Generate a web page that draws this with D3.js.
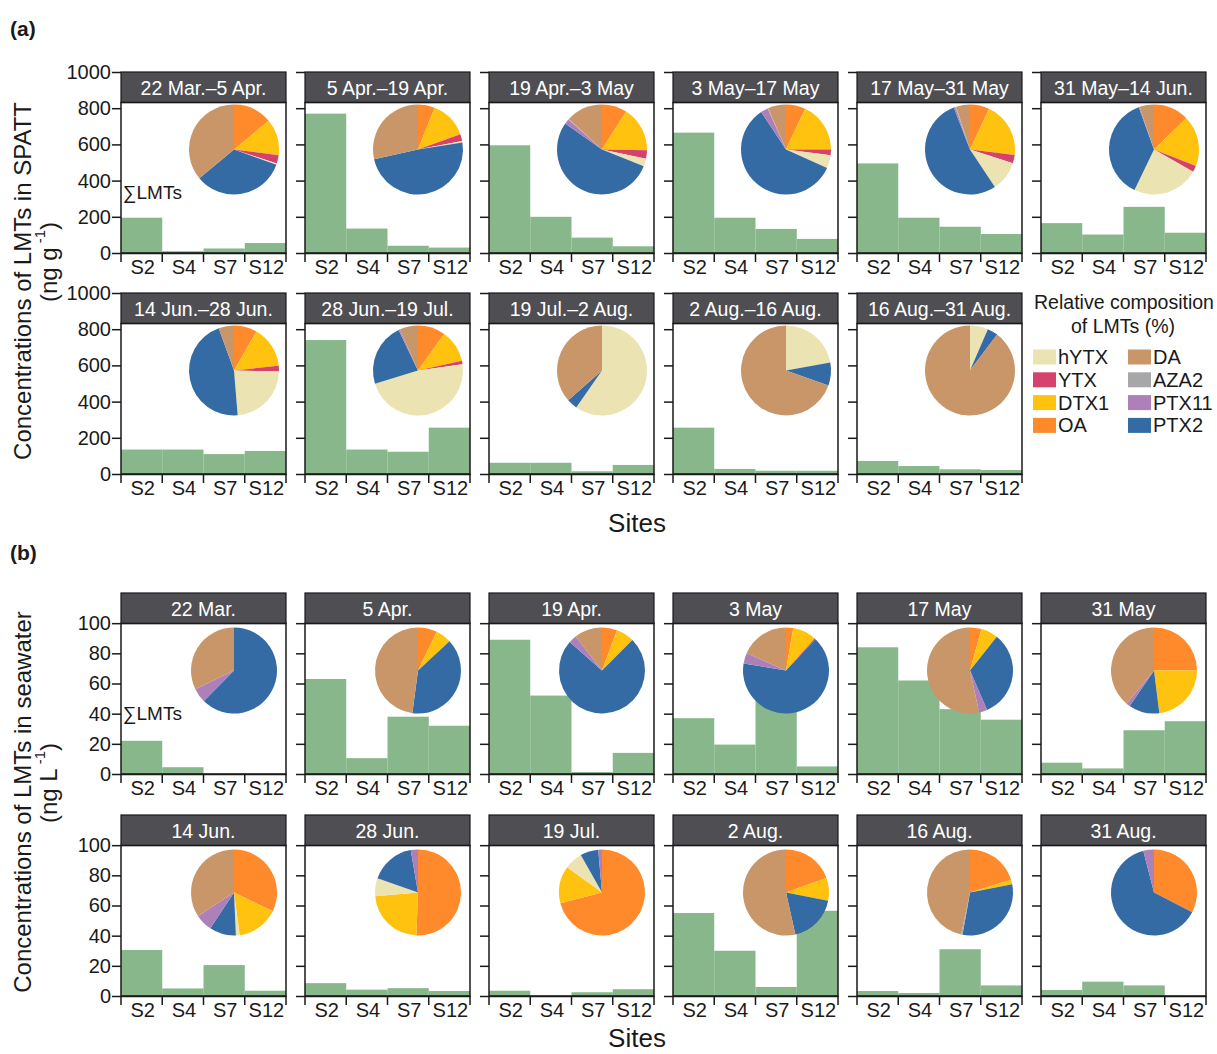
<!DOCTYPE html>
<html><head><meta charset="utf-8">
<script src="https://cdn.jsdelivr.net/npm/d3@7"></script>
<style>body{margin:0;background:#fff}text{font-family:"Liberation Sans",Arial,sans-serif;fill:#1a1a1a}</style>
</head><body>
<svg id="chart" width="1217" height="1054"></svg>
<script>
const sites = ["S2","S4","S7","S12"];
const components = ["OA","DTX1","YTX","hYTX","PTX2","PTX11","AZA2","DA"];
const compColors = ["#fe8a2b","#ffc20e","#d5426d","#ece3b2","#356ba4","#ad80b9","#a7a7a9","#c99669"];
const legendCol1 = ["hYTX","YTX","DTX1","OA"];
const legendCol2 = ["DA","AZA2","PTX11","PTX2"];

const spattPeriods = ["22 Mar.\u20135 Apr.","5 Apr.\u201319 Apr.","19 Apr.\u20133 May","3 May\u201317 May","17 May\u201331 May","31 May\u201314 Jun.",
  "14 Jun.\u201328 Jun.","28 Jun.\u201319 Jul.","19 Jul.\u20132 Aug.","2 Aug.\u201316 Aug.","16 Aug.\u201331 Aug."];
const spattTotals = [
  [195,10,25,55],[770,135,40,30],[595,200,85,37],[665,195,133,78],[495,195,145,105],[165,102,255,112],
  [135,135,110,127],[740,135,123,256],[62,62,15,50],[256,28,18,18],[72,44,26,22]];
// order: OA, DTX1, YTX, hYTX, PTX2, PTX11, AZA2, DA
const spattComp = [
  [14,13,3,0.5,33.5,0,0,36],
  [6,13.5,2.5,0.5,49,0,0,28.5],
  [9,16.3,3,2.8,53.7,1.8,0.3,13.1],
  [7,18,2,4.7,59,2.6,0.2,6.5],
  [7,20,3,10.8,53.6,0.6,0.3,5],
  [12.8,18.3,2.2,24,37.5,0.3,0,5.2],
  [8.3,15,2,23.4,45.8,0,0,5.5],
  [9.9,11.7,1.2,47.6,22.7,0.5,0,6.6],
  [0,0,0,59.7,3.8,0,0,36.5],
  [0,0,0,22.2,8.2,0,0,69.6],
  [0,0,0,6.5,3.8,0,0,89.7]];

const swDates = ["22 Mar.","5 Apr.","19 Apr.","3 May","17 May","31 May","14 Jun.","28 Jun.","19 Jul.","2 Aug.","16 Aug.","31 Aug."];
const swTotals = [
  [22,4.5,0,0],[63,10.5,38,32],[89,52,1.3,14],[37,19.5,55,5],[84,62,43,36],[7.5,3.7,29,35],
  [30.5,5,20.5,3.5],[8.5,4.2,5.2,3.3],[3.5,0,2.5,4.5],[55,30,6,56.5],[3.3,2,31,7],[4,9.5,7,0]];
const swComp = [
  [0,0,0,0,62.4,5.4,0,32.2],
  [7.2,5.9,0,0,39,0,0,47.9],
  [5.7,6.8,0,0,74,3,0,10.5],
  [2.7,8.9,0.4,0,65.6,4,0,18.4],
  [4.3,6.4,0,0,32.8,3.1,0,53.4],
  [25,23,0,0,11.6,1.4,0,39],
  [32.2,15.7,0,1.4,10,6.5,0,34.2],
  [50.6,23,0,6.8,16.9,2.7,0,0],
  [71,14,0,6.8,6.8,1.4,0,0],
  [19.5,8.6,0,0,18.4,0,0,53.5],
  [20.2,1.7,0,0,30.9,0,0.5,46.7],
  [32.6,0,0,0,63.4,4,0,0]];

const spattTicks = [0,200,400,600,800,1000];
const swTicks = [0,20,40,60,80,100];

const svg = d3.select("#chart");
const color = d3.scaleOrdinal().domain(components).range(compColors);
const colX = d3.range(6).map(i => 121 + i*184);
const panelW = 165, panelH = 181, stripH = 30.5;
const rowTops = [72, 293, 593, 815];
const pie = d3.pie().sort(null).value(d => d.v);

function drawPanel(ci, top, title, totals, comp, yMax, ticks, showLabels, radius, showSum) {
  const x0 = colX[ci];
  const g = svg.append("g").attr("transform", `translate(${x0},${top})`);
  const x = d3.scaleBand().domain(sites).range([0, panelW]).padding(0);
  const y = d3.scaleLinear().domain([0, yMax]).range([panelH, 0]);
  g.selectAll("rect.bar").data(sites).join("rect")
    .attr("x", d => x(d)).attr("width", x.bandwidth())
    .attr("y", (d,i) => y(totals[i])).attr("height", (d,i) => panelH - y(totals[i]))
    .attr("fill", "#87b78b");
  const arc = d3.arc().innerRadius(0).outerRadius(radius);
  const pg = g.append("g").attr("transform", `translate(113,${stripH + 47})`);
  pg.selectAll("path").data(pie(components.map((c,i) => ({c, v: comp[i]})))).join("path")
    .attr("d", arc).attr("fill", d => color(d.data.c));
  if (showSum) g.append("text").attr("x", 2).attr("y", 127).attr("font-size", 19).text("\u2211LMTs");
  g.append("rect").attr("x", 0).attr("y", 0).attr("width", panelW).attr("height", stripH)
    .attr("fill", "#4f4f53").attr("stroke", "#1a1a1a").attr("stroke-width", 1.2);
  g.append("text").attr("x", panelW/2).attr("y", stripH/2 + 1).attr("text-anchor", "middle")
    .attr("dominant-baseline", "central").attr("font-size", 19.5).style("fill", "#fff").text(title);
  g.append("rect").attr("x", 0).attr("y", stripH).attr("width", panelW).attr("height", panelH - stripH)
    .attr("fill", "none").attr("stroke", "#1a1a1a").attr("stroke-width", 1.5);
  const ya = g.append("g").call(d3.axisLeft(y).tickValues(ticks).tickSize(9).tickSizeOuter(0)
      .tickFormat(showLabels ? d3.format("d") : ""));
  ya.select(".domain").remove();
  ya.selectAll("line").attr("stroke", "#1a1a1a").attr("stroke-width", 1.5);
  ya.selectAll("text").attr("font-size", 20).attr("x", -10).style("fill", "#1a1a1a")
    .style("font-family", '"Liberation Sans",Arial,sans-serif');
  const xa = g.append("g").attr("transform", `translate(0,${panelH})`)
    .call(d3.axisBottom(x).tickSize(0).tickPadding(7));
  xa.select(".domain").attr("stroke", "#1a1a1a").attr("stroke-width", 1.5);
  xa.selectAll("text").attr("font-size", 20).style("fill", "#1a1a1a")
    .style("font-family", '"Liberation Sans",Arial,sans-serif').attr("dx", 1);
  const bounds = sites.map(s => x(s)).concat([panelW]);
  xa.selectAll("line.bnd").data(bounds).join("line").attr("class","bnd")
    .attr("x1", d => d).attr("x2", d => d).attr("y1", 0).attr("y2", 9)
    .attr("stroke", "#1a1a1a").attr("stroke-width", 1.5);
}

spattPeriods.forEach((p, i) => {
  const row = Math.floor(i / 6), ci = i % 6;
  drawPanel(ci, rowTops[row], p, spattTotals[i], spattComp[i], 1000, spattTicks, ci === 0, 45, i === 0);
});
swDates.forEach((p, i) => {
  const row = Math.floor(i / 6), ci = i % 6;
  drawPanel(ci, rowTops[2 + row], p, swTotals[i], swComp[i], 120, swTicks, ci === 0, 43, i === 0);
});

const lg = svg.append("g");
lg.append("text").attr("x", 1124).attr("y", 309).attr("text-anchor", "middle").attr("font-size", 19.5).text("Relative composition");
lg.append("text").attr("x", 1123).attr("y", 333).attr("text-anchor", "middle").attr("font-size", 19.5).text("of LMTs (%)");
[legendCol1, legendCol2].forEach((col, ci) => {
  col.forEach((c, ri) => {
    const yy = 357 + ri*22.8;
    lg.append("rect").attr("x", 1033 + ci*95).attr("y", yy - 7.5).attr("width", 23).attr("height", 15).attr("fill", color(c));
    lg.append("text").attr("x", 1058 + ci*95).attr("y", yy).attr("dominant-baseline", "central").attr("font-size", 20).text(c);
  });
});

svg.append("text").attr("x", 10).attr("y", 36).attr("font-size", 21).attr("font-weight", "bold").text("(a)");
svg.append("text").attr("x", 10).attr("y", 560).attr("font-size", 21).attr("font-weight", "bold").text("(b)");
svg.append("text").attr("x", 637).attr("y", 532).attr("text-anchor", "middle").attr("font-size", 26).text("Sites");
svg.append("text").attr("x", 637).attr("y", 1047).attr("text-anchor", "middle").attr("font-size", 26).text("Sites");

function yTitle(cx, cy, main, unit, xMain, xUnit) {
  svg.append("text").attr("transform", `translate(${xMain},${cy}) rotate(-90)`).attr("text-anchor", "middle")
    .attr("dominant-baseline", "central").attr("font-size", 24).text(main);
  const t = svg.append("text").attr("transform", `translate(${xUnit},${cx}) rotate(-90)`).attr("text-anchor", "middle")
    .attr("dominant-baseline", "central").attr("font-size", 24);
  t.append("tspan").text(unit);
  t.append("tspan").attr("font-size", 15).attr("dy", -9).text(" -1");
  t.append("tspan").attr("dy", 9).text(")");
}
yTitle(262, 281, "Concentrations of LMTs in SPATT", "(ng g", 22, 48);
yTitle(783, 802, "Concentrations of LMTs in seawater", "(ng L", 22, 48);
</script>
</body></html>
